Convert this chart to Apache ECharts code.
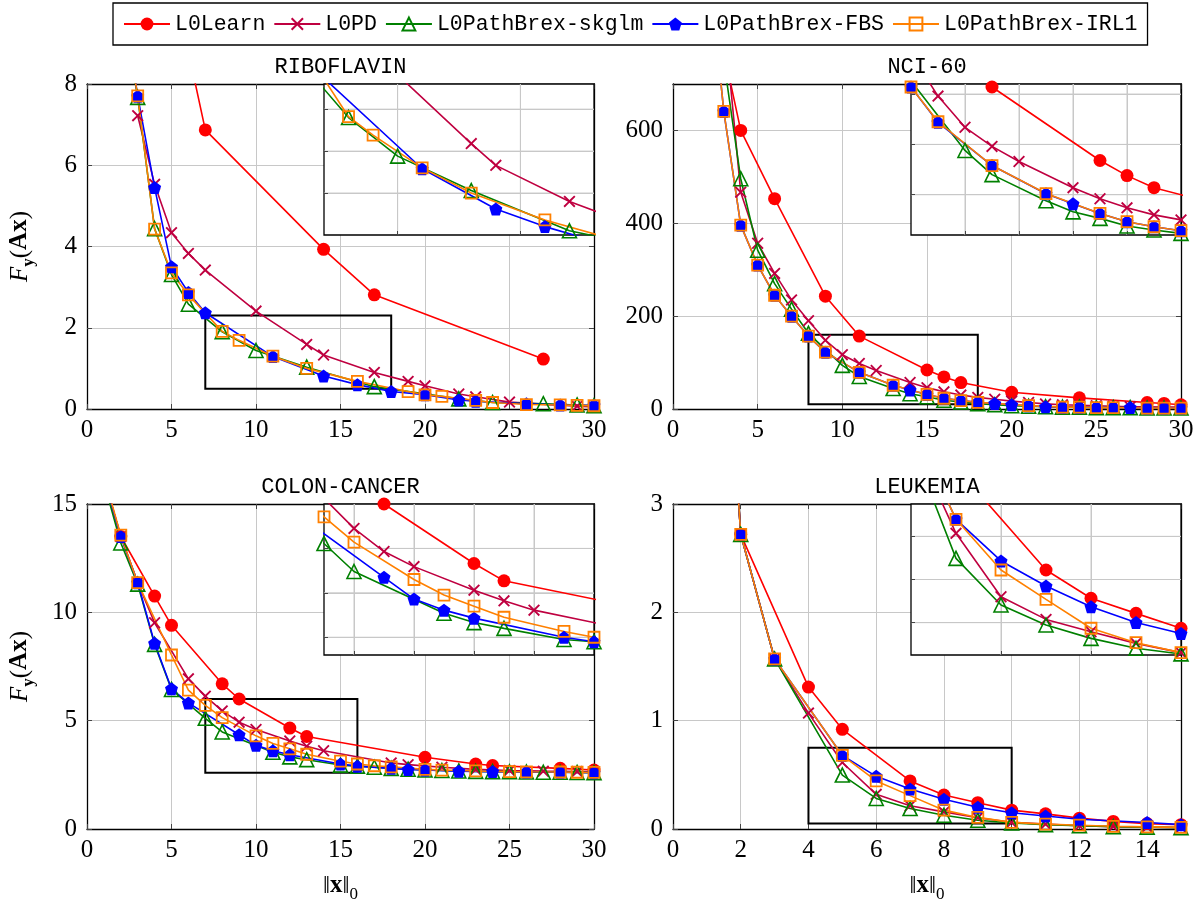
<!DOCTYPE html>
<html>
<head>
<meta charset="utf-8">
<script src="https://cdn.jsdelivr.net/npm/echarts@6/dist/echarts.min.js"></script>
<style>
  html, body { margin: 0; padding: 0; background: #fff; }
  #chart { width: 1203px; height: 910px; }
</style>
</head>
<body>
<div id="chart"></div>
<script>
// ---------------- data ----------------
const SERIES_NAMES = ['L0Learn', 'L0PD', 'L0PathBrex-skglm', 'L0PathBrex-FBS', 'L0PathBrex-IRL1'];
const PANEL_TITLES = ['RIBOFLAVIN', 'NCI-60', 'COLON-CANCER', 'LEUKEMIA'];

// RIBOFLAVIN
const riboLearnX = [6, 7, 14, 17, 27];
const riboLearnY = [8.8, 6.87, 3.93, 2.81, 1.23];
const riboPdX = [3, 4, 5, 6, 7, 10, 13, 14, 17, 19, 20, 22, 23, 25, 29, 30];
const riboPdY = [7.22, 5.53, 4.34, 3.83, 3.42, 2.41, 1.59, 1.33, 0.9, 0.68, 0.57, 0.37, 0.3, 0.17, 0.07, 0.05];
const riboSkglmX = [2, 3, 4, 5, 6, 8, 10, 13, 17, 22, 24, 27, 29, 30];
const riboSkglmY = [10.2, 7.67, 4.44, 3.31, 2.58, 1.9, 1.44, 1.03, 0.55, 0.25, 0.16, 0.13, 0.1, 0.08];
const riboFbsX = [2, 3, 4, 5, 6, 7, 11, 14, 16, 18, 20, 22, 23, 26, 28, 30];
const riboFbsY = [10.5, 7.7, 5.45, 3.5, 2.87, 2.37, 1.29, 0.81, 0.6, 0.43, 0.35, 0.22, 0.19, 0.13, 0.1, 0.09];
const riboIrl1X = [2, 3, 4, 5, 6, 8, 9, 11, 13, 16, 19, 20, 21, 23, 24, 26, 28, 29, 30];
const riboIrl1Y = [10.2, 7.71, 4.43, 3.35, 2.81, 1.91, 1.69, 1.3, 1.0, 0.68, 0.43, 0.35, 0.31, 0.21, 0.16, 0.11, 0.1, 0.09, 0.08];

// NCI-60
const nciLearnX = [3, 4, 6, 9, 11, 15, 16, 17, 20, 24, 28, 29, 30];
const nciLearnY = [770, 600, 453, 243, 157, 84, 69, 57, 36, 24, 14, 12, 9];
const nciPdX = [3, 4, 5, 6, 7, 8, 9, 10, 11, 12, 14, 15, 16, 17, 18, 19, 20, 21, 22, 23, 24, 25, 26, 27, 28, 29, 30];
const nciPdY = [850, 467, 357, 292, 235, 190, 148, 117, 98, 83, 57, 46, 37, 30, 25, 21, 17, 14, 11, 9, 8, 7, 6, 5, 5, 4, 4];
const nciSkglmX = [3, 4, 5, 6, 7, 8, 10, 11, 13, 14, 15, 16, 17, 18, 19, 20, 21, 22, 23, 24, 25, 26, 27, 28, 29, 30];
const nciSkglmY = [750, 496, 342, 270, 215, 163, 94, 70, 44, 33, 26.5, 19, 15, 11.6, 9, 7, 6, 5, 4, 4, 3, 3, 3, 2, 2, 2];
const nciFbsX = [2, 3, 4, 5, 6, 7, 8, 9, 11, 13, 14, 15, 16, 17, 18, 19, 20, 21, 22, 23, 24, 25, 26, 27, 28, 29, 30];
const nciFbsY = [1000, 641, 396, 310, 245, 200, 157, 122, 79, 51, 41, 31.4, 23.2, 18.2, 14.3, 12, 9.3, 7.2, 5, 4, 4, 3, 3, 3, 2, 2, 2];
const nciIrl1X = [2, 3, 4, 5, 6, 7, 8, 9, 11, 13, 15, 16, 17, 18, 21, 23, 24, 25, 26, 28, 29, 30];
const nciIrl1Y = [1000, 641, 396, 310, 245, 200, 157, 122.5, 79, 51.2, 31.4, 23.2, 18.2, 14.3, 7.2, 4, 4, 3, 3, 2, 2, 2];

// COLON-CANCER
const colonLearnX = [1, 2, 4, 5, 8, 9, 12, 13, 20, 23, 24, 28, 30];
const colonLearnY = [16.2, 13.5, 10.75, 9.4, 6.7, 6.0, 4.66, 4.27, 3.31, 3.0, 2.93, 2.8, 2.72];
const colonPdX = [1, 2, 3, 4, 6, 7, 8, 9, 10, 12, 13, 14, 18, 19, 21, 23, 25, 27, 29, 30];
const colonPdY = [16.2, 13.5, 11.37, 9.52, 6.93, 6.13, 5.45, 4.93, 4.59, 4.06, 3.82, 3.61, 3.05, 2.97, 2.85, 2.75, 2.7, 2.67, 2.65, 2.64];
const colonSkglmX = [1, 2, 3, 4, 5, 7, 8, 11, 12, 13, 15, 16, 17, 18, 19, 20, 21, 22, 23, 24, 25, 26, 27, 28, 29, 30];
const colonSkglmY = [16, 13.2, 11.3, 8.52, 6.44, 5.11, 4.48, 3.54, 3.33, 3.2, 2.95, 2.9, 2.85, 2.8, 2.76, 2.72, 2.7, 2.68, 2.66, 2.65, 2.64, 2.63, 2.62, 2.62, 2.61, 2.6];
const colonFbsX = [1, 2, 3, 4, 5, 6, 9, 10, 11, 12, 15, 16, 18, 19, 20, 22, 24, 26, 28, 30];
const colonFbsY = [16.2, 13.5, 11.37, 8.57, 6.47, 5.82, 4.35, 3.86, 3.61, 3.43, 3.0, 2.9, 2.8, 2.75, 2.72, 2.67, 2.65, 2.63, 2.62, 2.6];
const colonIrl1X = [1, 2, 3, 5, 6, 7, 8, 10, 11, 12, 13, 15, 16, 17, 18, 20, 21, 23, 25, 26, 28, 29, 30];
const colonIrl1Y = [16.3, 13.56, 11.37, 8.03, 6.41, 5.71, 5.14, 4.3, 3.95, 3.7, 3.45, 3.13, 3.0, 2.92, 2.87, 2.75, 2.72, 2.68, 2.65, 2.64, 2.63, 2.62, 2.61];

// LEUKEMIA
const leukLearnX = [1, 2, 4, 5, 7, 8, 9, 10, 11, 12, 13, 14, 15];
const leukLearnY = [7.5, 2.72, 1.31, 0.92, 0.444, 0.313, 0.243, 0.174, 0.14, 0.1, 0.07, 0.05, 0.04];
const leukPdX = [1, 2, 3, 4, 5, 6, 7, 8, 9, 10, 11, 12, 13, 14, 15];
const leukPdY = [7.5, 2.72, 1.57, 1.07, 0.614, 0.32, 0.215, 0.158, 0.104, 0.061, 0.045, 0.03, 0.022, 0.017, 0.013];
const leukSkglmX = [1, 2, 3, 5, 6, 7, 8, 9, 10, 11, 12, 13, 14, 15];
const leukSkglmY = [7.5, 2.72, 1.57, 0.498, 0.282, 0.189, 0.127, 0.081, 0.055, 0.04, 0.03, 0.022, 0.017, 0.013];
const leukFbsX = [1, 2, 3, 5, 6, 7, 8, 9, 10, 11, 12, 14, 15];
const leukFbsY = [7.5, 2.72, 1.57, 0.679, 0.486, 0.37, 0.274, 0.201, 0.15, 0.12, 0.09, 0.06, 0.04];
const leukIrl1X = [1, 2, 3, 5, 6, 7, 8, 9, 10, 11, 12, 13, 14, 15];
const leukIrl1Y = [7.5, 2.72, 1.57, 0.679, 0.444, 0.308, 0.174, 0.107, 0.061, 0.045, 0.035, 0.025, 0.02, 0.015];

// axis extents: [min, max, interval]
const riboXAxis = [0, 30, 5],  riboYAxis = [0, 8, 2];
const nciXAxis = [0, 30, 5],   nciYAxis = [0, 700, 200];
const colonXAxis = [0, 30, 5], colonYAxis = [0, 15, 5];
const leukXAxis = [0, 15, 2],  leukYAxis = [0, 3, 1];

// magnified windows and their grid lines
const riboZoomX = [7, 18],    riboZoomY = [0.5, 2.3];
const riboZoomXTicks = [10, 15],          riboZoomYTicks = [1, 1.5, 2];
const nciZoomX = [8, 18],     nciZoomY = [10, 160];
const nciZoomXTicks = [10, 12, 14, 16],   nciZoomYTicks = [50, 100, 150];
const colonZoomX = [7, 16],   colonZoomY = [2.6, 6];
const colonZoomXTicks = [8, 10, 12, 14],  colonZoomYTicks = [3, 4, 5];
const leukZoomX = [4, 10],    leukZoomY = [0.05, 0.75];
const leukZoomXTicks = [6, 8],            leukZoomYTicks = [0.2, 0.4, 0.6];

// ---------------- build ----------------
const zip = (xs, ys) => xs.map((x, i) => [x, ys[i]]);

const panels = [
  { title: PANEL_TITLES[0], xr: riboXAxis, yr: riboYAxis,
    zx: riboZoomX, zy: riboZoomY, zxt: riboZoomXTicks, zyt: riboZoomYTicks,
    data: [zip(riboLearnX, riboLearnY), zip(riboPdX, riboPdY), zip(riboSkglmX, riboSkglmY), zip(riboFbsX, riboFbsY), zip(riboIrl1X, riboIrl1Y)] },
  { title: PANEL_TITLES[1], xr: nciXAxis, yr: nciYAxis,
    zx: nciZoomX, zy: nciZoomY, zxt: nciZoomXTicks, zyt: nciZoomYTicks,
    data: [zip(nciLearnX, nciLearnY), zip(nciPdX, nciPdY), zip(nciSkglmX, nciSkglmY), zip(nciFbsX, nciFbsY), zip(nciIrl1X, nciIrl1Y)] },
  { title: PANEL_TITLES[2], xr: colonXAxis, yr: colonYAxis,
    zx: colonZoomX, zy: colonZoomY, zxt: colonZoomXTicks, zyt: colonZoomYTicks,
    data: [zip(colonLearnX, colonLearnY), zip(colonPdX, colonPdY), zip(colonSkglmX, colonSkglmY), zip(colonFbsX, colonFbsY), zip(colonIrl1X, colonIrl1Y)] },
  { title: PANEL_TITLES[3], xr: leukXAxis, yr: leukYAxis,
    zx: leukZoomX, zy: leukZoomY, zxt: leukZoomXTicks, zyt: leukZoomYTicks,
    data: [zip(leukLearnX, leukLearnY), zip(leukPdX, leukPdY), zip(leukSkglmX, leukSkglmY), zip(leukFbsX, leukFbsY), zip(leukIrl1X, leukIrl1Y)] }
];

const MAIN_BOXES = [
  { left: 87,  top: 84,  width: 507, height: 325 },
  { left: 673, top: 84,  width: 508, height: 325 },
  { left: 87,  top: 504, width: 507, height: 325 },
  { left: 673, top: 504, width: 508, height: 325 }
];
const INSET_BOXES = [
  { left: 324, top: 84,  width: 270, height: 151 },
  { left: 911, top: 84,  width: 270, height: 151 },
  { left: 324, top: 504, width: 270, height: 151 },
  { left: 911, top: 504, width: 270, height: 151 }
];

const COLORS = ['#ff0000', '#bf0040', '#008000', '#0000ff', '#ff8000'];
const CROSS = 'path://M0,1.1L1.1,0L5,3.9L8.9,0L10,1.1L6.1,5L10,8.9L8.9,10L5,6.1L1.1,10L0,8.9L3.9,5Z';
const PENTAGON = 'path://M5,0L10,3.63L8.09,9.51L1.91,9.51L0,3.63Z';
const MARKS = [
  { symbol: 'circle',  size: 13, fill: COLORS[0],        border: 0 },
  { symbol: CROSS,     size: 12, fill: COLORS[1],        border: 0 },
  { symbol: 'triangle', size: 14, fill: 'rgba(0,0,0,0)', border: 1.6 },
  { symbol: PENTAGON,  size: 13, fill: COLORS[3],        border: 0 },
  { symbol: 'rect',    size: 11, fill: 'rgba(0,0,0,0)',  border: 1.8 }
];

const SERIF = 'Liberation Serif';
const MONO = 'Liberation Mono';
const tickFont = { fontFamily: SERIF, fontSize: 25, color: '#000' };
const GRID_GRAY = '#c8c8c8';
const gridLine = { color: GRID_GRAY, width: 1 };
const blackLine = { color: '#000', width: 1.3 };
const innerTick = { show: true, inside: true, length: 5, lineStyle: { color: '#444', width: 1 } };

// stacking: main curves < inset panel < inset rules/ticks < inset curves
const Z_MAIN = 2, Z_INSET_BG = 4, Z_INSET_RULE = 6, Z_INSET_TICK = 7, Z_INSET_DATA = 10;

const yName = '{f|F}{s|y}{p|(}{b|Ax}{p|)}';
const yNameStyle = {
  rich: {
    f: { fontFamily: SERIF, fontStyle: 'italic', fontSize: 25, lineHeight: 34, color: '#000' },
    s: { fontFamily: SERIF, fontWeight: 'bold', fontSize: 17, lineHeight: 17, verticalAlign: 'bottom', color: '#000' },
    p: { fontFamily: SERIF, fontSize: 25, lineHeight: 34, color: '#000' },
    b: { fontFamily: SERIF, fontWeight: 'bold', fontSize: 25, lineHeight: 34, color: '#000' }
  }
};
const xName = '{p|\u2016}{b|x}{p|\u2016}{s|0}';
const xNameStyle = {
  rich: {
    p: { fontFamily: SERIF, fontSize: 25, lineHeight: 34, color: '#000' },
    b: { fontFamily: SERIF, fontWeight: 'bold', fontSize: 25, lineHeight: 34, color: '#000' },
    s: { fontFamily: SERIF, fontSize: 17, lineHeight: 17, verticalAlign: 'bottom', color: '#000' }
  }
};

const grid = [], xAxis = [], yAxis = [], series = [];

panels.forEach((p, i) => grid.push(Object.assign({ show: false }, MAIN_BOXES[i])));
panels.forEach((p, i) => grid.push(Object.assign({ show: false }, INSET_BOXES[i])));

// main bottom / left axes (indices 0-3)
panels.forEach((p, i) => {
  const bottomRow = i >= 2, leftCol = i % 2 === 0;
  xAxis.push({
    gridIndex: i, type: 'value', position: 'bottom',
    min: p.xr[0], max: p.xr[1], interval: p.xr[2],
    axisLine: { show: true, onZero: false, lineStyle: blackLine },
    axisTick: innerTick,
    axisLabel: Object.assign({ margin: 9, showMaxLabel: p.xr[1] % p.xr[2] === 0 }, tickFont),
    splitLine: { show: true, showMinLine: false, showMaxLine: false, lineStyle: gridLine },
    name: bottomRow ? xName : '', nameLocation: 'middle', nameGap: 40, nameTextStyle: xNameStyle
  });
  yAxis.push({
    gridIndex: i, type: 'value', position: 'left',
    min: p.yr[0], max: p.yr[1], interval: p.yr[2],
    axisLine: { show: true, onZero: false, lineStyle: blackLine },
    axisTick: innerTick,
    axisLabel: Object.assign({ margin: 10, showMaxLabel: p.yr[1] % p.yr[2] === 0 }, tickFont),
    splitLine: { show: true, showMinLine: false, showMaxLine: false, lineStyle: gridLine },
    name: leftCol ? yName : '', nameLocation: 'middle', nameRotate: 90, nameGap: 50, nameTextStyle: yNameStyle
  });
});
// main top / right axes carry the panel titles and mirrored ticks (indices 4-7)
panels.forEach((p, i) => {
  xAxis.push({
    gridIndex: i, type: 'value', position: 'top',
    min: p.xr[0], max: p.xr[1], interval: p.xr[2],
    axisLine: { show: true, onZero: false, lineStyle: blackLine },
    axisTick: innerTick, axisLabel: { show: false }, splitLine: { show: false },
    name: p.title, nameLocation: 'middle', nameGap: 6,
    nameTextStyle: { fontFamily: MONO, fontSize: 22, color: '#000' }
  });
  yAxis.push({
    gridIndex: i, type: 'value', position: 'right',
    min: p.yr[0], max: p.yr[1], interval: p.yr[2],
    axisLine: { show: true, onZero: false, lineStyle: blackLine },
    axisTick: innerTick, axisLabel: { show: false }, splitLine: { show: false }
  });
});
// magnified views (indices 8-11)
panels.forEach((p, i) => {
  xAxis.push({
    gridIndex: 4 + i, type: 'value', position: 'bottom', min: p.zx[0], max: p.zx[1], z: Z_INSET_TICK,
    axisLine: { show: false }, axisLabel: { show: false }, splitLine: { show: false },
    axisTick: { show: true, inside: true, length: 4, customValues: p.zxt, lineStyle: { color: '#444' } }
  });
  yAxis.push({
    gridIndex: 4 + i, type: 'value', position: 'left', min: p.zy[0], max: p.zy[1], z: Z_INSET_TICK,
    axisLine: { show: false }, axisLabel: { show: false }, splitLine: { show: false },
    axisTick: { show: true, inside: true, length: 4, customValues: p.zyt, lineStyle: { color: '#444' } }
  });
});

function lineSeries(name, s, data, axisIdx, z) {
  const m = MARKS[s];
  return {
    type: 'line', name: name, data: data,
    xAxisIndex: axisIdx, yAxisIndex: axisIdx, z: z,
    clip: true, showAllSymbol: true,
    symbol: m.symbol, symbolSize: m.size,
    lineStyle: { color: COLORS[s], width: 1.6 },
    itemStyle: { color: m.fill, borderColor: COLORS[s], borderWidth: m.border },
    emphasis: { disabled: true },
    animation: false
  };
}

// one gray rule across a magnified view
function ruleSeries(axisIdx, pts) {
  return {
    type: 'line', data: pts, xAxisIndex: axisIdx, yAxisIndex: axisIdx, z: Z_INSET_RULE,
    symbol: 'none', silent: true, animation: false, clip: false,
    lineStyle: { color: GRID_GRAY, width: 1 },
    emphasis: { disabled: true }
  };
}

// data coordinates, on the main axes, of the area an inset box covers
function insetAreaOnMain(p, i) {
  const m = MAIN_BOXES[i], b = INSET_BOXES[i];
  const xAt = px => p.xr[0] + (px - m.left) / m.width * (p.xr[1] - p.xr[0]);
  const yAt = py => p.yr[1] - (py - m.top) / m.height * (p.yr[1] - p.yr[0]);
  return [[{ coord: [xAt(b.left), yAt(b.top + b.height)] }, { coord: [xAt(b.left + b.width), yAt(b.top)] }]];
}

panels.forEach((p, i) => {
  p.data.forEach((d, s) => {
    const main = lineSeries(SERIES_NAMES[s], s, d, i, Z_MAIN);
    if (s === 0) {
      // outline of the magnified window
      main.markArea = {
        silent: true, label: { show: false },
        itemStyle: { color: 'rgba(0,0,0,0)', borderColor: '#000', borderWidth: 2 },
        data: [[{ coord: [p.zx[0], p.zy[0]] }, { coord: [p.zx[1], p.zy[1]] }]]
      };
    }
    series.push(main);
  });
  // white framed panel under the magnified view
  series.push({
    type: 'line', data: [[p.zx[0], p.zy[0]]], xAxisIndex: i, yAxisIndex: i, z: Z_INSET_BG,
    symbol: 'none', silent: true, animation: false,
    lineStyle: { width: 0 },
    markArea: {
      silent: true, label: { show: false }, animation: false,
      itemStyle: { color: '#fff', borderColor: '#000', borderWidth: 1.3, opacity: 1 },
      data: insetAreaOnMain(p, i)
    }
  });
});
panels.forEach((p, i) => {
  p.zxt.forEach(v => series.push(ruleSeries(8 + i, [[v, p.zy[0]], [v, p.zy[1]]])));
  p.zyt.forEach(v => series.push(ruleSeries(8 + i, [[p.zx[0], v], [p.zx[1], v]])));
});
panels.forEach((p, i) => {
  p.data.forEach((d, s) => {
    const inset = lineSeries(SERIES_NAMES[s], s, d, 8 + i, Z_INSET_DATA);
    if (s === 0) {
      // grid rules of the magnified view
      inset.markLine = {
        silent: true, symbol: ['none', 'none'], label: { show: false }, animation: false,
        lineStyle: { color: GRID_GRAY, width: 1, type: 'solid' },
        emphasis: { disabled: true },
        data: p.zxt.map(v => ({ xAxis: v })).concat(p.zyt.map(v => ({ yAxis: v })))
      };
    }
    series.push(inset);
  });
});

const chart = echarts.init(document.getElementById('chart'), null, { renderer: 'canvas' });
chart.setOption({
  backgroundColor: '#fff',
  animation: false,
  legend: {
    data: SERIES_NAMES, selectedMode: false,
    left: 113, top: 3, orient: 'horizontal',
    itemWidth: 46, itemHeight: 16, itemGap: 8,
    padding: [10, 10, 10, 10],
    borderColor: '#000', borderWidth: 1.3,
    textStyle: { fontFamily: MONO, fontSize: 21.5, color: '#000' }
  },
  grid: grid, xAxis: xAxis, yAxis: yAxis, series: series
});
</script>
</body>
</html>
